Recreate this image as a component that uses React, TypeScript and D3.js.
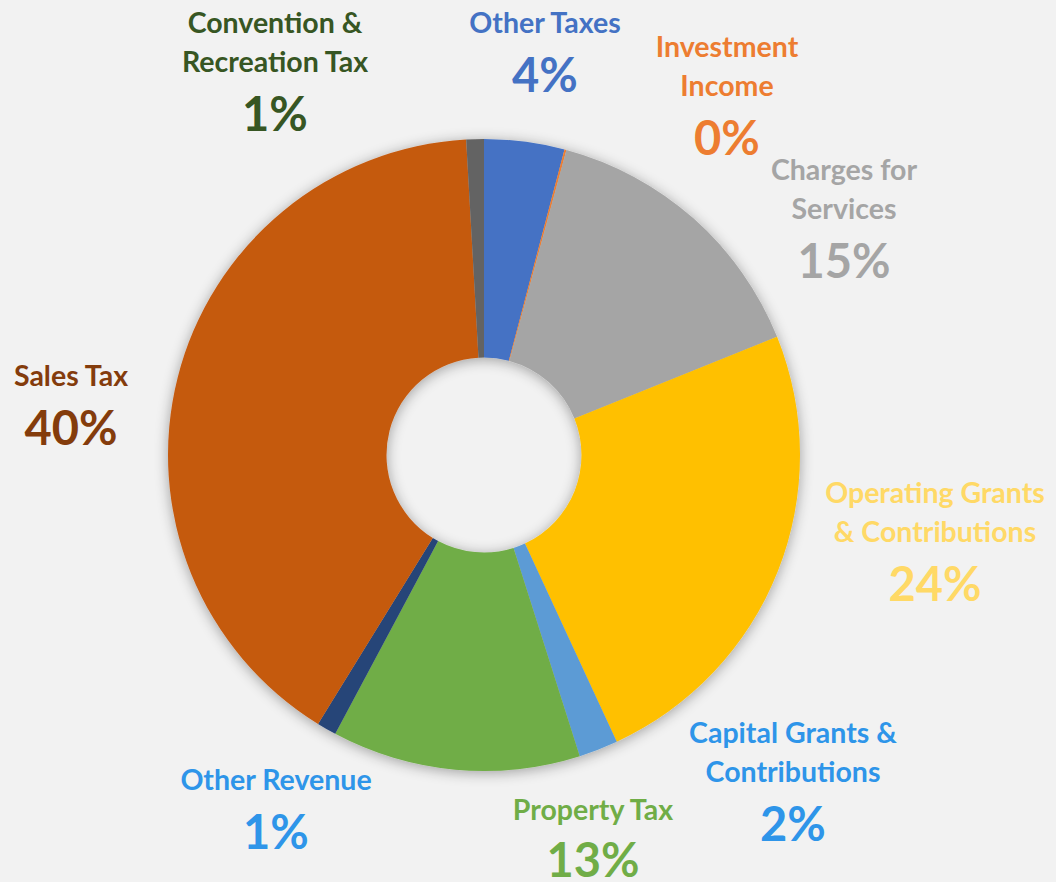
import React from "react";
import * as d3 from "d3";

const categories = [
  "Other Taxes",
  "Investment Income",
  "Charges for Services",
  "Operating Grants & Contributions",
  "Capital Grants & Contributions",
  "Property Tax",
  "Other Revenue",
  "Sales Tax",
  "Convention & Recreation Tax",
];
const values = [4.1, 0.1, 14.7, 24.2, 2.0, 12.7, 1.0, 40.3, 0.9];
const sliceColors = ["#4472c4", "#ed7d31", "#a5a5a5", "#ffc000", "#5b9bd5", "#70ad47", "#264478", "#c55a11", "#636363"];
const labelColors = ["#4472c4", "#ed7d31", "#a5a5a5", "#ffd966", "#2e95e9", "#70ad47", "#2e95e9", "#843c0c", "#375623"];
const labelLines = [
  ["Other Taxes"],
  ["Investment", "Income"],
  ["Charges for", "Services"],
  ["Operating Grants", "& Contributions"],
  ["Capital Grants &", "Contributions"],
  ["Property Tax"],
  ["Other Revenue"],
  ["Sales Tax"],
  ["Convention &", "Recreation Tax"],
];
// label anchor: centre x and baseline of first line
const labelPos: [number, number][] = [
  [545, 33], [727, 57], [844, 180], [935, 503], [793, 743], [593, 820], [276, 790], [71, 386], [275, 33],
];

const W = 1056, H = 882;
const cx = 484, cy = 455, R = 316, r0 = 97.5;

export default function App() {
  const pie = d3.pie<number>().sort(null).value((d) => d)(values);
  const arc = d3.arc<d3.PieArcDatum<number>>().innerRadius(r0).outerRadius(R);
  const total = d3.sum(values);
  const lineH = 38.5;
  return (
    <svg width={W} height={H} style={{ position: "absolute", left: 0, top: 0, background: "#f2f2f2" }}
      fontFamily="Lato, 'Open Sans', sans-serif" fontWeight="bold">
      <defs>
        <filter id="sh" x="-20%" y="-20%" width="140%" height="140%">
          <feGaussianBlur in="SourceAlpha" stdDeviation="7" />
          <feOffset dx="0" dy="2" result="b" />
          <feComponentTransfer><feFuncA type="linear" slope="0.35" /></feComponentTransfer>
          <feMerge><feMergeNode /><feMergeNode in="SourceGraphic" /></feMerge>
        </filter>
      </defs>
      <rect width={W} height={H} fill="#f2f2f2" />
      <g transform={`translate(${cx},${cy})`} filter="url(#sh)">
        {pie.map((d, i) => (
          <path key={i} d={arc(d) || ""} fill={sliceColors[i]} />
        ))}
      </g>
      {categories.map((c, i) => {
        const [x, y] = labelPos[i];
        const lines = labelLines[i];
        const pct = Math.round((values[i] / total) * 100) + "%";
        return (
          <g key={c} fill={labelColors[i]} textAnchor="middle">
            {lines.map((l, j) => (
              <text key={j} x={x} y={y + j * lineH} fontSize={28.5}>{l}</text>
            ))}
            <text x={x} y={Math.min(y + (lines.length - 1) * lineH + 59, 877)} fontSize={47}>{pct}</text>
          </g>
        );
      })}
    </svg>
  );
}
